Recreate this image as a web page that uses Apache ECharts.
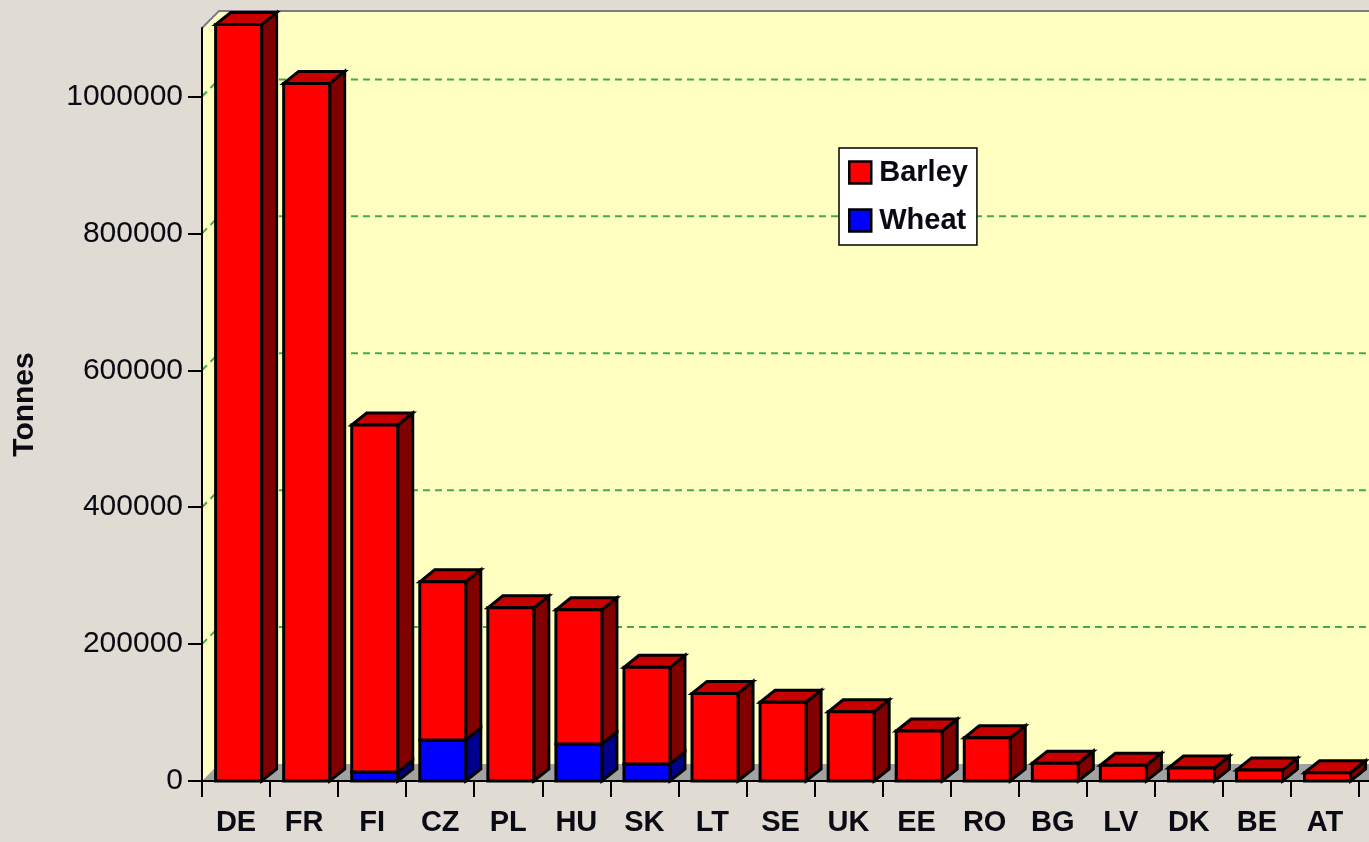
<!DOCTYPE html>
<html>
<head>
<meta charset="utf-8">
<style>
  html, body { margin: 0; padding: 0; background: #e0dcd3; }
  #chart { width: 1369px; height: 842px; }
</style>
<script src="https://cdn.jsdelivr.net/npm/echarts@6/dist/echarts.min.js"></script>
</head>
<body>
<div id="chart"></div>
<script>
const categories = ['DE', 'FR', 'FI', 'CZ', 'PL', 'HU', 'SK', 'LT', 'SE', 'UK', 'EE', 'RO', 'BG', 'LV', 'DK', 'BE', 'AT'];
const wheat = [0, 0, 13000, 60000, 0, 54000, 25000, 0, 0, 0, 0, 0, 0, 0, 0, 0, 0];
const barley = [1105000, 1019000, 507000, 231000, 253000, 196000, 141000, 128000, 115000, 101000, 73000, 63000, 26000, 23000, 19000, 16000, 12000];
const yTicks = [0, 200000, 400000, 600000, 800000, 1000000];

// 3d depth of the walls and of the bars
const WX = 17, WY = 17;
const BX = 15, BY = 12;

var chart = echarts.init(document.getElementById('chart'));

function renderWalls(params, api) {
  const cs = params.coordSys;
  const x0 = cs.x, y0 = cs.y, x1 = cs.x + cs.width + 30, yb = cs.y + cs.height;
  return {
    type: 'group',
    children: [
      { type: 'rect', shape: { x: x0 + WX, y: y0 - WY, width: x1 - x0, height: cs.height }, style: { fill: '#ffffc2' } },
      { type: 'polygon', shape: { points: [[x0, y0], [x0 + WX, y0 - WY], [x0 + WX, yb - WY], [x0, yb]] }, style: { fill: '#ffffc2' } },
      { type: 'polygon', shape: { points: [[x0, yb], [x0 + WX, yb - WY], [x1 + WX, yb - WY], [x1, yb]] }, style: { fill: '#a2a2a2' } },
      { type: 'polyline', shape: { points: [[x0, y0], [x0 + WX, y0 - WY], [x1 + WX, y0 - WY]] }, style: { stroke: '#7c7c84', lineWidth: 2, fill: null } },
      // axis line stubs: x axis runs a little past the y axis on both sides
      { type: 'line', shape: { x1: x0 - 14, y1: yb, x2: x1 + 20, y2: yb }, style: { stroke: '#000', lineWidth: 2 } }
    ]
  };
}

function renderGrid(params, api) {
  const cs = params.coordSys;
  const y = api.coord([0, api.value(0)])[1];
  return {
    type: 'polyline',
    shape: { points: [[cs.x, y], [cs.x + WX, y - WY], [cs.x + cs.width + WX + 30, y - WY]] },
    style: { stroke: '#3fae3f', lineWidth: 2, lineDash: [7, 5], fill: null }
  };
}

function barRenderer(front, top, side, isTop) {
  return function (params, api) {
    const i = api.value(0), lo = api.value(1), hi = api.value(2);
    if (!(hi > lo)) return;
    const band = api.size([1, 0])[0];
    const ph = api.coord([i, hi]);
    const pl = api.coord([i, lo]);
    const xl = ph[0] - band * 0.30;
    const xr = xl + band * 0.676;
    const yt = ph[1], yb = pl[1];
    const line = { stroke: '#000', lineWidth: 3, lineJoin: 'miter' };
    const kids = [
      { type: 'polygon', shape: { points: [[xr, yt], [xr + BX, yt - BY], [xr + BX, yb - BY], [xr, yb]] }, style: Object.assign({ fill: side }, line) }
    ];
    if (isTop(i)) {
      kids.push({ type: 'polygon', shape: { points: [[xl, yt], [xl + BX, yt - BY], [xr + BX, yt - BY], [xr, yt]] }, style: Object.assign({ fill: top }, line) });
    }
    kids.push({ type: 'rect', shape: { x: xl, y: yt, width: xr - xl, height: yb - yt }, style: Object.assign({ fill: front }, line) });
    return { type: 'group', children: kids };
  };
}

const wheatData = categories.map((c, i) => [i, 0, wheat[i]]);
const barleyData = categories.map((c, i) => [i, wheat[i], wheat[i] + barley[i]]);

var option = {
  backgroundColor: '#e0dcd3',
  animation: false,
  grid: { left: 202, right: 10, top: 28, bottom: 61 },
  legend: {
    data: ['Barley', 'Wheat'],
    orient: 'vertical',
    left: 839,
    top: 148,
    backgroundColor: '#ffffff',
    borderColor: '#000',
    borderWidth: 1.5,
    borderRadius: 0,
    padding: [10, 9, 10, 9],
    itemGap: 19,
    itemWidth: 22,
    itemHeight: 22,
    icon: 'rect',
    itemStyle: { borderColor: '#000', borderWidth: 2.5 },
    textStyle: { fontFamily: 'Liberation Sans, Arial', fontSize: 29, fontWeight: 'bold', color: '#0a0a14', padding: [0, 0, 0, 3] }
  },
  xAxis: {
    type: 'category',
    data: categories,
    z: 10,
    axisLine: { show: true, lineStyle: { color: '#000', width: 2 } },
    axisTick: { show: true, inside: false, length: 16, lineStyle: { color: '#000', width: 2 } },
    axisLabel: { show: true, interval: 0, margin: 27, fontFamily: 'Liberation Sans, Arial', fontSize: 29, fontWeight: 'bold', color: '#0a0a14' },
    splitLine: { show: false }
  },
  yAxis: {
    type: 'value',
    min: 0,
    max: 1100000,
    interval: 200000,
    z: 10,
    name: 'Tonnes',
    nameLocation: 'middle',
    nameRotate: 90,
    nameGap: 162,
    nameTextStyle: { fontFamily: 'Liberation Sans, Arial', fontSize: 30, fontWeight: 'bold', color: '#0a0a14' },
    axisLine: { show: true, lineStyle: { color: '#000', width: 2 } },
    axisTick: { show: true, inside: false, length: 14, customValues: yTicks, lineStyle: { color: '#000', width: 2 } },
    axisLabel: { margin: 19, customValues: yTicks, formatter: v => String(v), fontFamily: 'Liberation Sans, Arial', fontSize: 30, color: '#0a0a14' },
    splitLine: { show: false }
  },
  series: [
    { type: 'custom', name: 'walls', z: 1, silent: true, renderItem: renderWalls, data: [[0, 0]] },
    { type: 'custom', name: 'grid', z: 2, silent: true, renderItem: renderGrid, data: yTicks.filter(v => v > 0).map(v => [v]), encode: { y: 0 } },
    {
      type: 'custom', name: 'Wheat', z: 3,
      itemStyle: { color: '#0000ff', borderColor: '#000', borderWidth: 2 },
      renderItem: barRenderer('#0000ff', '#0000b0', '#00008c', i => !(barley[i] > 0)),
      encode: { x: 0, y: 2 },
      data: wheatData
    },
    {
      type: 'custom', name: 'Barley', z: 3,
      itemStyle: { color: '#ff0000', borderColor: '#000', borderWidth: 2 },
      renderItem: barRenderer('#ff0000', '#c80000', '#800000', i => true),
      encode: { x: 0, y: 2 },
      data: barleyData
    }
  ]
};
chart.setOption(option);
</script>
</body>
</html>
